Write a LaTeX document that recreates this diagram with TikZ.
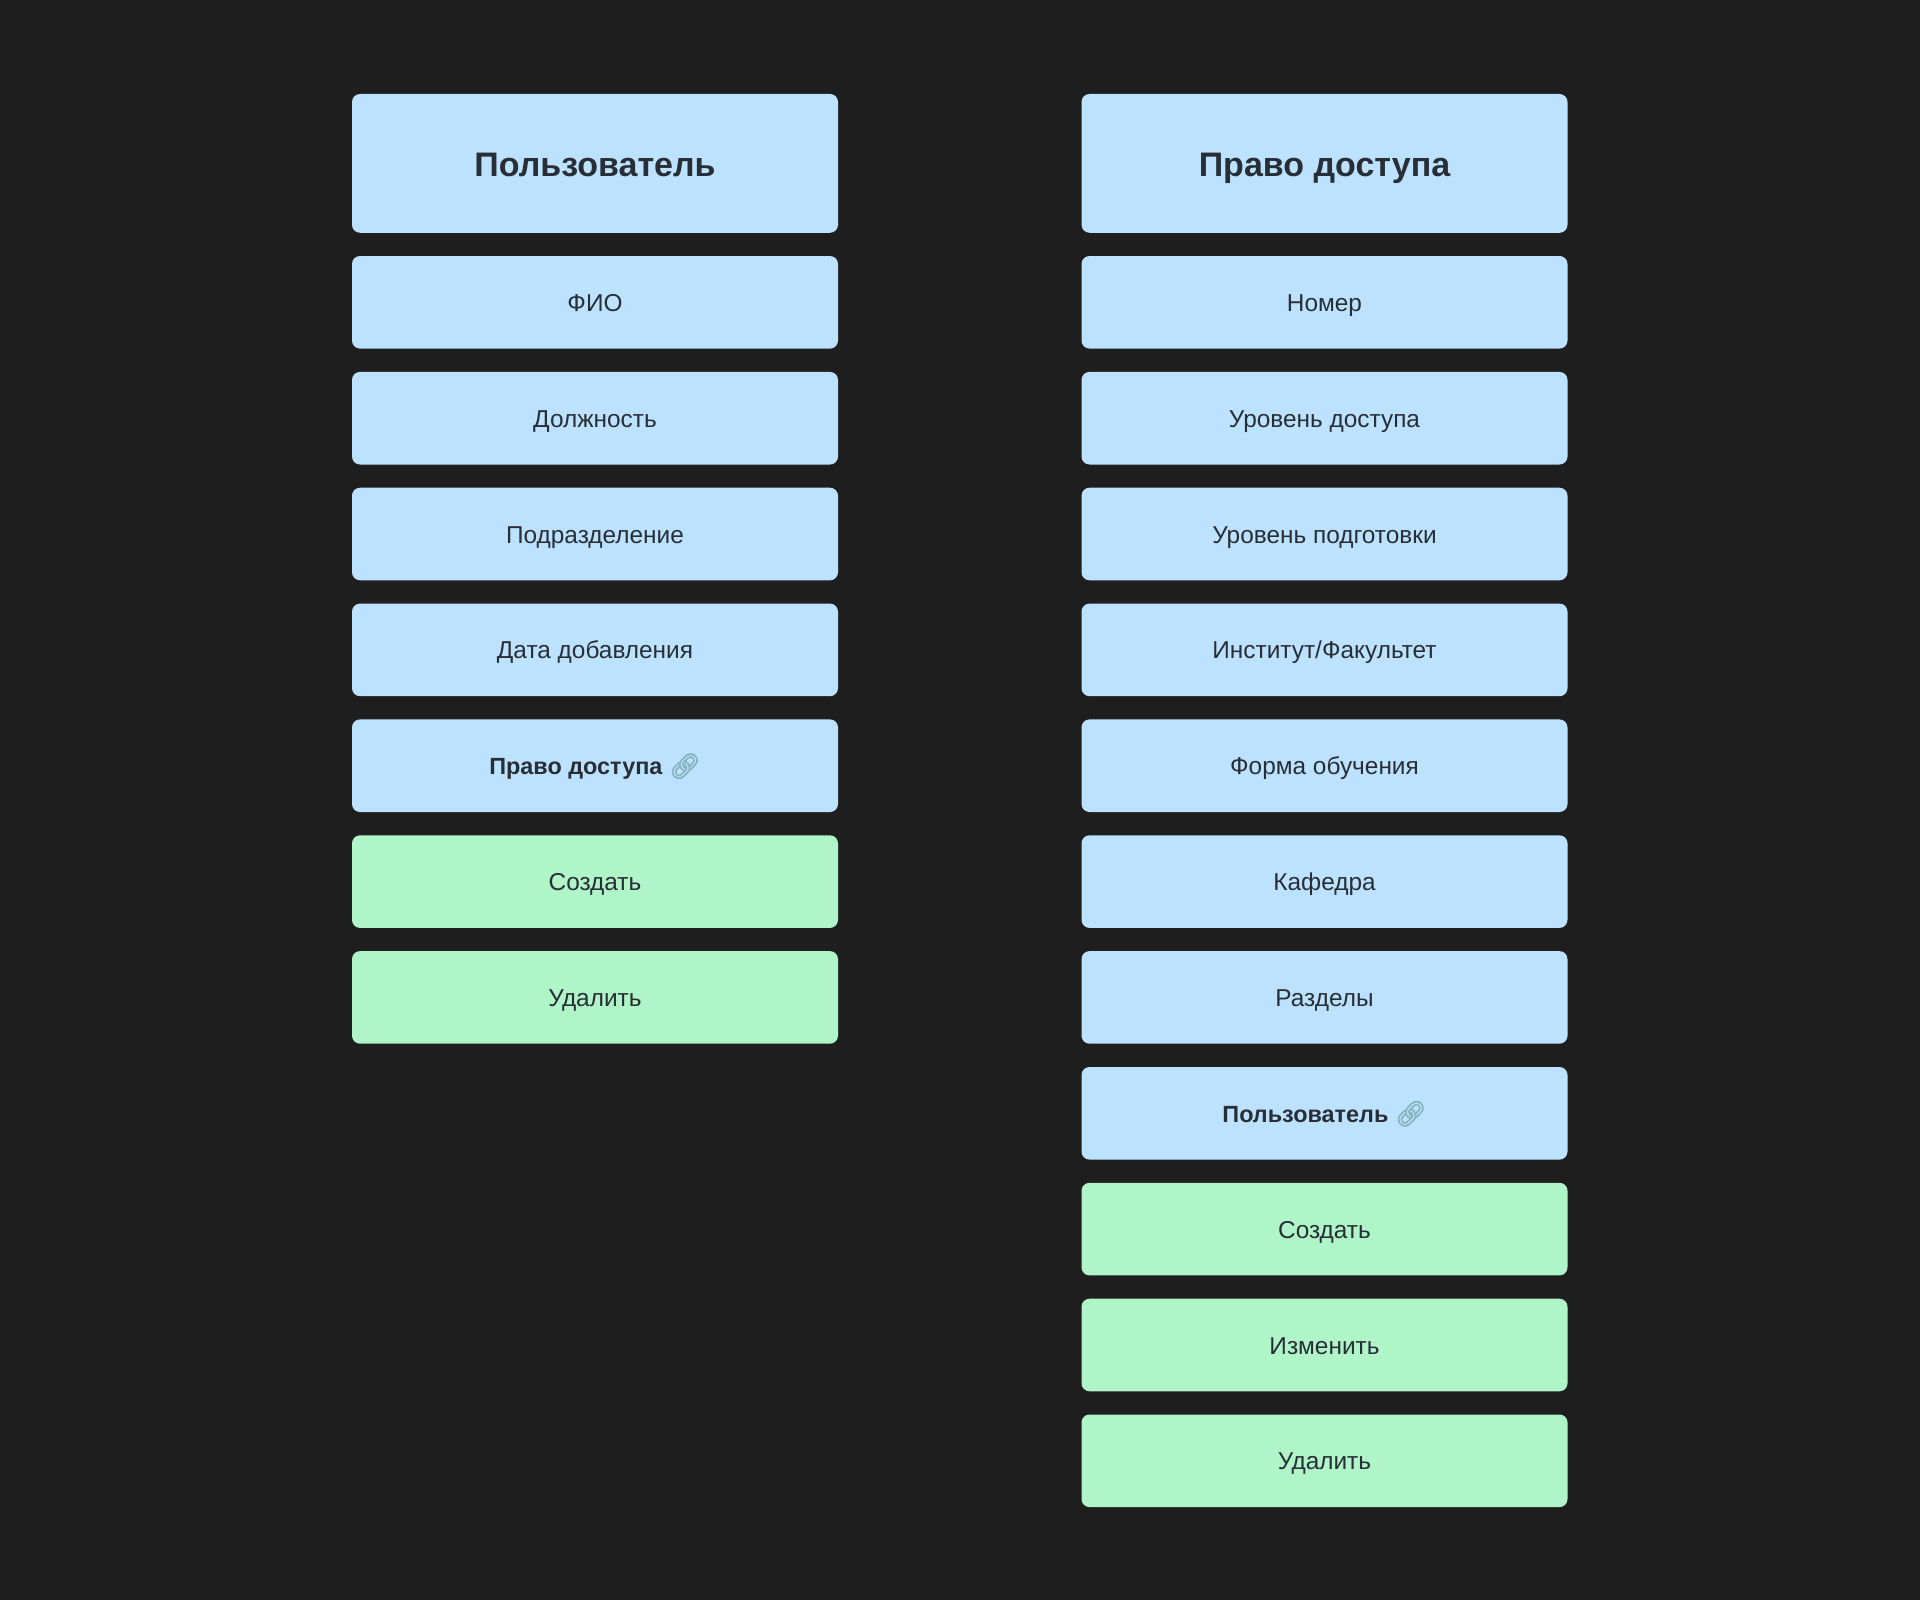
\documentclass[tikz,border=0pt]{standalone}
\usepackage{fontspec}
\setmainfont{Liberation Sans}
\newfontfamily\emojifont[FakeBold=2.5]{Noto Emoji}
\definecolor{bgdark}{HTML}{1E1E1E}
\definecolor{fieldblue}{HTML}{BDE2FF}
\definecolor{actiongreen}{HTML}{AFF5C8}
\definecolor{inkdark}{HTML}{272E36}
\definecolor{linkteal}{HTML}{86B4C0}
\newcommand{\linkicon}{{\emojifont\fontsize{25}{28}\selectfont\color{linkteal}\symbol{"1F517}}}
\tikzset{
  field/.style={fill=fieldblue, text=inkdark, rounded corners=8pt, inner sep=0pt,
    minimum width=486pt, minimum height=92.6pt, text height=20pt, text depth=2pt,
    font=\fontsize{24.4}{28}\selectfont},
  title/.style={field, minimum height=138.8pt, text height=30pt, text depth=3pt,
    font=\fontsize{34}{40}\selectfont\bfseries},
  action/.style={field, fill=actiongreen},
  linkfield/.style={field, font=\fontsize{23.4}{28}\selectfont\bfseries}
}
\begin{document}
\begin{tikzpicture}[x=1pt,y=-1pt]
   \fill[bgdark] (0,0) rectangle (1920,1600);
   \useasboundingbox (0,0) rectangle (1920,1600);
   \begin{scope}
    \node[title] (user) at (595,163.4) {Пользователь};
    \node[field] (fio) at (595,302.3) {ФИО};
    \node[field] (post) at (595,418.2) {Должность};
    \node[field] (dept) at (595,534) {Подразделение};
    \node[field] (added) at (595,649.9) {Дата добавления};
    \node[linkfield] (userlink) at (595,765.7) {Право доступа \linkicon};
    \node[action] (usernew) at (595,881.6) {Создать};
    \node[action] (userdel) at (595,997.4) {Удалить};
   \end{scope}
   \begin{scope}
    \node[title] (right) at (1324.5,163.4) {Право доступа};
    \node[field] (num) at (1324.5,302.3) {Номер};
    \node[field] (level) at (1324.5,418.2) {Уровень доступа};
    \node[field] (train) at (1324.5,534) {Уровень подготовки};
    \node[field] (inst) at (1324.5,649.9) {Институт/Факультет};
    \node[field] (form) at (1324.5,765.7) {Форма обучения};
    \node[field] (chair) at (1324.5,881.6) {Кафедра};
    \node[field] (sect) at (1324.5,997.4) {Разделы};
    \node[linkfield] (rightlink) at (1324.5,1113.3) {Пользователь \linkicon};
    \node[action] (rightnew) at (1324.5,1229.1) {Создать};
    \node[action] (rightedit) at (1324.5,1345) {Изменить};
    \node[action] (rightdel) at (1324.5,1460.8) {Удалить};
   \end{scope}
\end{tikzpicture}
\end{document}
